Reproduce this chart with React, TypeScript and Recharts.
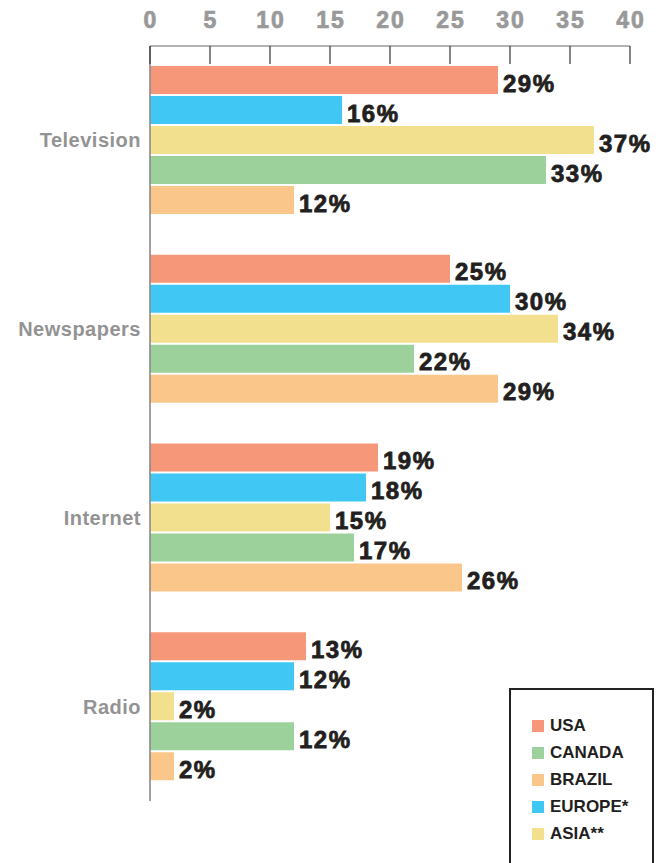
import React from 'react';
import { BarChart, Bar, XAxis, YAxis, LabelList, Legend } from 'recharts';

const categories = ['Television', 'Newspapers', 'Internet', 'Radio'];
const usaValues = [29, 25, 19, 13];
const europeValues = [16, 30, 18, 12];
const asiaValues = [37, 34, 15, 2];
const canadaValues = [33, 22, 17, 12];
const brazilValues = [12, 29, 26, 2];
const xTicks = [0, 5, 10, 15, 20, 25, 30, 35, 40];

const seriesKeys = ['usa', 'europe', 'asia', 'canada', 'brazil'];
const seriesNames: Record<string, string> = {
  usa: 'USA',
  europe: 'EUROPE*',
  asia: 'ASIA**',
  canada: 'CANADA',
  brazil: 'BRAZIL',
};
const seriesColors: Record<string, string> = {
  usa: '#F6977A',
  europe: '#40C7F4',
  asia: '#F2E08E',
  canada: '#9DD19B',
  brazil: '#FBC68A',
};
const legendOrder = ['usa', 'canada', 'brazil', 'europe', 'asia'];

const seriesValues: Record<string, number[]> = {
  usa: usaValues,
  europe: europeValues,
  asia: asiaValues,
  canada: canadaValues,
  brazil: brazilValues,
};

const data = categories.map((category, i) => {
  const row: Record<string, string | number> = { category };
  seriesKeys.forEach((k) => {
    row[k] = seriesValues[k][i];
  });
  return row;
});

const FONT = '"Liberation Sans", Arial, Helvetica, sans-serif';

const TopTick = (props: any) => {
  const { x, y, payload } = props;
  return (
    <g>
      <line x1={x} x2={x} y1={y} y2={y + 18} stroke="#333" strokeWidth={1.2} />
      <text
        x={x + 1}
        y={y - 26}
        textAnchor="middle"
        dominantBaseline="central"
        fill="#999999"
        stroke="#999999"
        strokeWidth={0.7}
        fontSize={23}
        fontWeight="bold"
        fontFamily={FONT}
        letterSpacing={2}
      >
        {payload.value}
      </text>
    </g>
  );
};

const renderLegend = () => (
  <div
    style={{
      boxSizing: 'border-box',
      width: 145,
      height: 200,
      border: '2px solid #222',
      paddingTop: 22,
      paddingLeft: 21,
      background: '#fff',
    }}
  >
    {legendOrder.map((k) => (
      <div key={k} style={{ display: 'flex', alignItems: 'center', height: 27 }}>
        <div style={{ width: 12, height: 12, background: seriesColors[k], marginRight: 6 }} />
        <span
          style={{
            fontFamily: FONT,
            fontWeight: 'bold',
            fontSize: 17,
            color: '#231F20',
            lineHeight: '27px',
          }}
        >
          {seriesNames[k]}
        </span>
      </div>
    ))}
  </div>
);

export default function App() {
  return (
    <div
      style={{
        position: 'absolute',
        left: 0,
        top: 0,
        width: 663,
        height: 863,
        overflow: 'hidden',
        background: '#fff',
      }}
    >
      <BarChart
        layout="vertical"
        width={663}
        height={863}
        data={data}
        margin={{ top: 0, right: 33, bottom: 62, left: 0 }}
        barCategoryGap={20}
        barGap={2}
      >
        <XAxis
          type="number"
          orientation="top"
          domain={[0, 40]}
          ticks={xTicks}
          height={46}
          tickSize={0}
          tickMargin={0}
          tickLine={false}
          axisLine={{ stroke: '#666', strokeWidth: 1.2 }}
          tick={<TopTick />}
          interval={0}
        />
        <YAxis
          type="category"
          dataKey="category"
          width={150}
          tickSize={0}
          tickMargin={9}
          tickLine={false}
          axisLine={{ stroke: '#8a8a8a', strokeWidth: 1.6 }}
          tick={{ fill: '#939393', fontSize: 20, fontWeight: 'bold', fontFamily: FONT, letterSpacing: 0.5 }}
        />
        <Legend
          layout="vertical"
          align="center"
          verticalAlign="middle"
          wrapperStyle={{ left: 509, top: 688, width: 145, height: 200 }}
          content={renderLegend}
        />
        {seriesKeys.map((k) => (
          <Bar key={k} dataKey={k} name={seriesNames[k]} fill={seriesColors[k]} isAnimationActive={false}>
            <LabelList
              dataKey={k}
              position="right"
              offset={5}
              formatter={(v: any) => `${v}%`}
              fill="#231F20"
              stroke="#231F20"
              strokeWidth={0.8}
              fontSize={24}
              fontWeight="bold"
              fontFamily={FONT}
              letterSpacing={1.5}
              dy={3}
            />
          </Bar>
        ))}
      </BarChart>
    </div>
  );
}
